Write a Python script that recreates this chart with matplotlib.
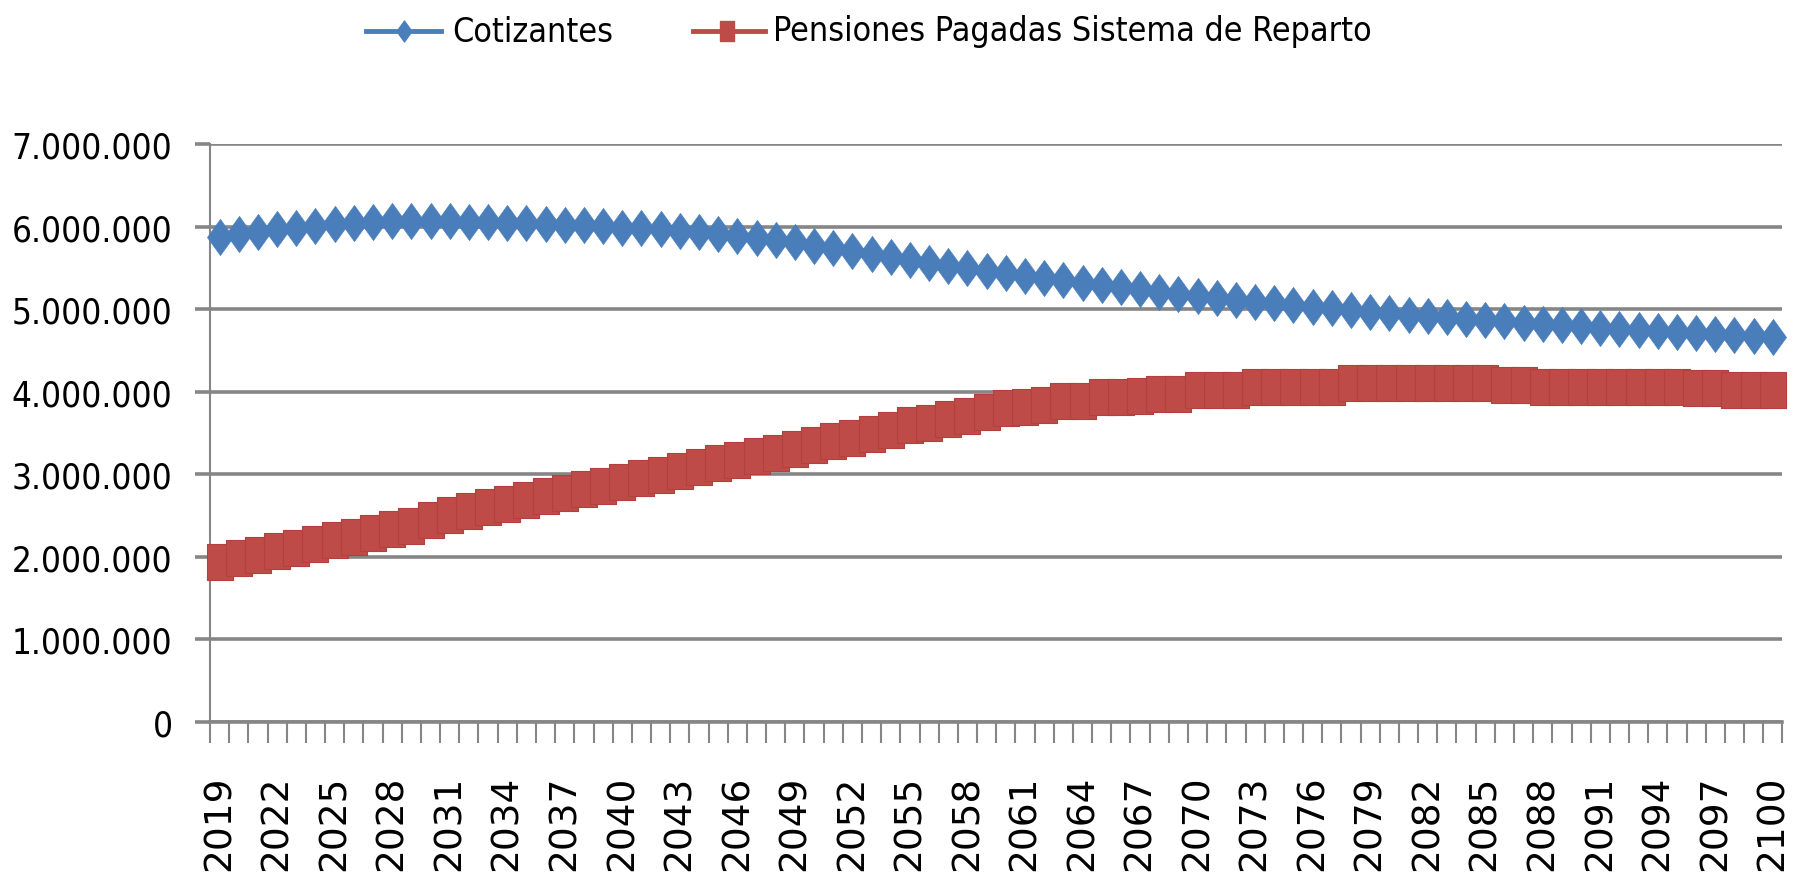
import os
import matplotlib
matplotlib.use("Agg")
import matplotlib.pyplot as plt
import matplotlib.font_manager as fm
from matplotlib.path import Path
from matplotlib.ticker import FixedLocator, FuncFormatter
from matplotlib.lines import Line2D
import numpy as np

# ---------------- data ----------------
years = list(range(2019, 2101))

cotizantes = [
    5874000, 5915000, 5943000, 5968000, 5988000, 6008000, 6028000, 6045000, 6057000, 6065000,
    6069000, 6069000, 6065000, 6061000, 6057000, 6049000, 6045000, 6036000, 6024000, 6016000,
    6004000, 5988000, 5984000, 5968000, 5955000, 5935000, 5915000, 5887000, 5862000, 5838000,
    5810000, 5773000, 5741000, 5704000, 5668000, 5631000, 5599000, 5562000, 5530000, 5498000,
    5465000, 5437000, 5404000, 5380000, 5352000, 5319000, 5295000, 5266000, 5242000, 5214000,
    5189000, 5165000, 5141000, 5117000, 5092000, 5072000, 5052000, 5031000, 5011000, 4991000,
    4971000, 4954000, 4934000, 4918000, 4902000, 4881000, 4869000, 4853000, 4837000, 4821000,
    4804000, 4792000, 4776000, 4760000, 4748000, 4731000, 4719000, 4707000, 4695000, 4683000,
    4671000, 4659000,
]

pensiones = [
    1933000, 1980000, 2022000, 2067000, 2111000, 2156000, 2198000, 2245000, 2290000, 2334000,
    2379000, 2446000, 2511000, 2555000, 2598000, 2645000, 2687000, 2732000, 2776000, 2819000,
    2863000, 2908000, 2953000, 2997000, 3040000, 3087000, 3131000, 3175000, 3219000, 3264000,
    3311000, 3353000, 3398000, 3442000, 3487000, 3532000, 3598000, 3621000, 3665000, 3710000,
    3754000, 3799000, 3821000, 3842000, 3886000, 3886000, 3931000, 3931000, 3953000, 3975000,
    3975000, 4018000, 4018000, 4018000, 4062000, 4062000, 4062000, 4062000, 4062000, 4107000,
    4107000, 4107000, 4107000, 4107000, 4107000, 4107000, 4107000, 4087000, 4087000, 4062000,
    4062000, 4062000, 4062000, 4062000, 4062000, 4062000, 4062000, 4040000, 4040000, 4018000,
    4018000, 4018000,
]

series_labels = ["Cotizantes", "Pensiones Pagadas Sistema de Reparto"]
y_ticks = [0, 1000000, 2000000, 3000000, 4000000, 5000000, 6000000, 7000000]

# ---------------- style ----------------
BLUE = "#4A7EBB"
RED = "#BE4B48"
GRID = "#868686"

plt.rcParams["font.family"] = ["DejaVu Sans"]


def narrow_font():
    """Pick a condensed/narrow regular face if one is installed."""
    prefs = ["LiberationSansNarrow-Regular", "DejaVuSansCondensed.ttf",
             "RobotoCondensed-Regular", "OpenSans_Condensed-Regular",
             "OpenSans-CondensedRegular", "NotoSans-CondensedRegular",
             "NotoSans-Condensed.ttf", "DejaVuSansCondensed"]
    files = [f.fname for f in fm.fontManager.ttflist]
    for p in prefs:
        for fn in files:
            if p in os.path.basename(fn):
                return fm.FontProperties(fname=fn)
    return fm.FontProperties(family="DejaVu Sans")


NARROW = narrow_font()

# tall (non-square) markers as in the reference
diamond = Path([(0, 1), (0.72, 0), (0, -1), (-0.72, 0), (0, 1)],
               [Path.MOVETO, Path.LINETO, Path.LINETO, Path.LINETO, Path.CLOSEPOLY])
square = Path([(-0.72, -1), (0.72, -1), (0.72, 1), (-0.72, 1), (-0.72, -1)],
              [Path.MOVETO, Path.LINETO, Path.LINETO, Path.LINETO, Path.CLOSEPOLY])

W, H = 1795, 879
fig = plt.figure(figsize=(W / 100, H / 100), dpi=100)
ax = fig.add_axes([0.117, 0.1777, 0.876, 0.657])

x = np.arange(len(years))
ax.plot(x, cotizantes, color=BLUE, lw=2.5, marker=diamond, markersize=26,
        mfc=BLUE, mec=BLUE, mew=0.5, zorder=3, clip_on=False)
ax.plot(x, pensiones, color=RED, lw=2.5, marker=square, markersize=26,
        mfc=RED, mec="#B4403D", mew=0.8, zorder=3, clip_on=False)

ax.set_xlim(-0.5, len(years) - 0.5)
ax.set_ylim(0, 7000000)

# y axis
ax.yaxis.set_major_locator(FixedLocator(y_ticks))
ax.yaxis.set_major_formatter(FuncFormatter(lambda v, p: f"{int(v):,}".replace(",", ".")))
ax.grid(axis="y", color=GRID, lw=2.6, zorder=1)
ax.set_axisbelow(True)
ax.tick_params(axis="y", length=11, width=2.6, color=GRID, pad=16)

# x axis: tick marks at category boundaries, labels every 3 years
ax.xaxis.set_minor_locator(FixedLocator(np.arange(-0.5, len(years), 1.0)))
ax.xaxis.set_major_locator(FixedLocator(x[::3]))
ax.set_xticklabels([str(y) for y in years[::3]], rotation=90)
ax.tick_params(axis="x", which="major", length=0, pad=38, labelsize=27)
ax.tick_params(axis="x", which="minor", length=15, width=1.5, color=GRID)

for side in ["top", "right"]:
    ax.spines[side].set_visible(False)
ax.spines["left"].set_color(GRID)
ax.spines["left"].set_linewidth(1.5)
ax.spines["bottom"].set_color(GRID)
ax.spines["bottom"].set_linewidth(2.6)

# legend (placed manually in pixel positions of the reference)
def fx(px):
    return px / W


def fy(py):
    return 1 - py / H


leg_y = fy(32)
fig.add_artist(Line2D([fx(366), fx(441)], [leg_y, leg_y], color=BLUE, lw=3.5,
                      transform=fig.transFigure))
fig.add_artist(Line2D([fx(404)], [leg_y], marker=diamond, markersize=15, color=BLUE,
                      mec=BLUE, transform=fig.transFigure))
fig.add_artist(Line2D([fx(693), fx(765)], [leg_y, leg_y], color=RED, lw=3.5,
                      transform=fig.transFigure))
fig.add_artist(Line2D([fx(727)], [leg_y], marker=square, markersize=15, color=RED,
                      mec=RED, transform=fig.transFigure))
t1 = fig.text(fx(452), leg_y, series_labels[0], ha="left", va="center",
              fontproperties=NARROW.copy())
t2 = fig.text(fx(773), leg_y, series_labels[1], ha="left", va="center",
              fontproperties=NARROW.copy())

# size the narrow texts to the reference's widths
ylabs = ax.get_yticklabels()
for lab in ylabs:
    lab.set_fontproperties(NARROW.copy())
    lab.set_size(30)
t1.set_size(30)
t2.set_size(30)
fig.canvas.draw()
r = fig.canvas.get_renderer()
top_lab = [l for l in ax.get_yticklabels() if l.get_text() == "7.000.000"][0]
wy = top_lab.get_window_extent(r).width
sy = min(30, 30 * 160 / wy)
for lab in ax.get_yticklabels():
    lab.set_size(sy)
w2 = t2.get_window_extent(r).width
sl = min(30, 30 * 598 / w2)
t1.set_size(sl)
t2.set_size(sl)

fig.savefig("out.png", dpi=100)
